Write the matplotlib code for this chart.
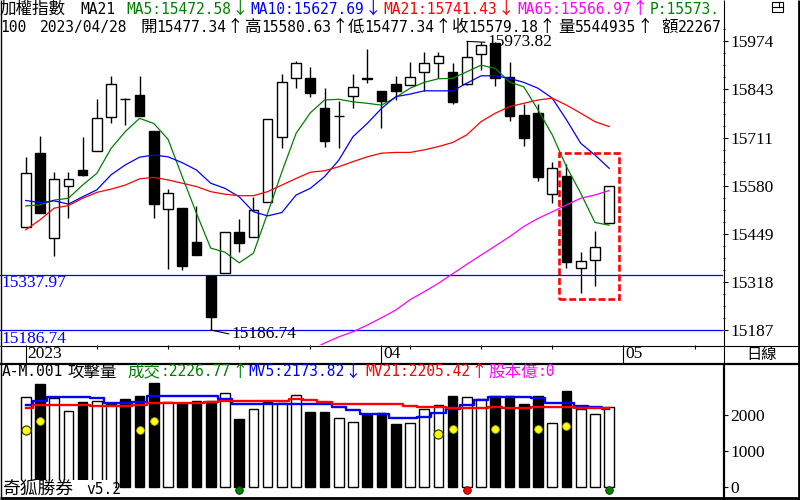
import matplotlib
matplotlib.use("Agg")
import matplotlib.pyplot as plt
from matplotlib.patches import Rectangle
import numpy as np

# ---------------- data ----------------
opens = [15467, 15669, 15437, 15580, 15623, 15676, 15767, 15818, 15828, 15730,
         15516, 15519, 15427, 15334, 15341, 15453, 15439, 15537, 15714, 15873,
         15873, 15791, 15770, 15826, 15874, 15839, 15858, 15855, 15890, 15915,
         15890, 15858, 15940, 15969, 15876, 15773, 15778, 15557, 15607, 15355,
         15378, 15477.34]
highs = [15659, 15717, 15617, 15617, 15714, 15818, 15880, 15820, 15880, 15730,
         15571, 15519, 15526, 15334, 15453, 15489, 15550, 15761, 15885, 15921,
         15903, 15846, 15811, 15885, 15953, 15839, 15880, 15918, 15946, 15944,
         15916, 15973.82, 15972, 15972, 15917, 15803, 15803, 15644, 15640, 15400,
         15457, 15580.63]
lows = [15467, 15505, 15389, 15493, 15607, 15676, 15750, 15746, 15770, 15491,
        15352, 15349, 15390, 15186.74, 15341, 15400, 15439, 15537, 15682, 15848,
        15823, 15687, 15684, 15793, 15860, 15737, 15814, 15855, 15839, 15873,
        15803, 15855, 15896, 15853, 15758, 15689, 15594, 15532, 15355, 15287,
        15308, 15477.34]
closes = [15614, 15505, 15598, 15598, 15610, 15764, 15857, 15817, 15770, 15530,
          15560, 15362, 15390, 15223, 15453, 15423, 15514, 15761, 15864, 15914,
          15832, 15703, 15771, 15849, 15871, 15812, 15839, 15876, 15914, 15934,
          15808, 15930, 15964, 15873, 15771, 15710, 15605, 15628, 15373, 15375,
          15412, 15579.18]

ma5 = [15525, 15528, 15541, 15546, 15582, 15614, 15682, 15728, 15764, 15750,
       15707, 15605, 15505, 15410, 15399, 15370, 15396, 15505, 15618, 15723,
       15779, 15814, 15816, 15809, 15805, 15800, 15821, 15846, 15862, 15872,
       15873, 15891, 15909, 15900, 15863, 15850, 15787, 15719, 15632, 15560,
       15480, 15472.58]
ma10 = [15540, 15534, 15539, 15530, 15550, 15569, 15610, 15637, 15658, 15664,
        15659, 15643, 15623, 15587, 15573, 15550, 15509, 15498, 15507, 15555,
        15573, 15605, 15650, 15714, 15750, 15791, 15823, 15830, 15839, 15839,
        15839, 15860, 15880, 15880, 15873, 15862, 15846, 15819, 15760, 15696,
        15664, 15627.69]
ma21 = [15460, 15487, 15519, 15526, 15546, 15562, 15571, 15582, 15599, 15603,
        15596, 15587, 15578, 15564, 15557, 15553, 15553, 15564, 15582, 15600,
        15617, 15621, 15632, 15646, 15659, 15669, 15671, 15671, 15678, 15687,
        15698, 15719, 15755, 15778, 15796, 15805, 15814, 15819, 15800, 15778,
        15755, 15741.43]
ma65 = [np.nan] * 20 + [15132, 15151, 15168, 15182, 15200, 15220, 15241, 15269,
                        15291, 15314, 15340, 15366, 15391, 15416, 15441, 15469,
                        15491, 15509, 15528, 15546, 15555, 15566.97]

volume = [2504, 2877, 2476, 2129, 2364, 2409, 2308, 2448, 2541, 2896,
          2381, 2336, 2409, 2409, 2633, 1888, 2185, 2381, 2353, 2577,
          2101, 2101, 1933, 1821, 2008, 2056, 1748, 1776, 2168, 2289,
          2541, 2504, 2448, 2541, 2541, 2317, 2541, 1776, 2681, 2168,
          2036, 2226.77]
mv5 = [2289, 2409, 2504, 2504, 2504, 2485, 2353, 2336, 2381, 2541,
       2541, 2541, 2541, 2541, 2448, 2317, 2317, 2317, 2317, 2317,
       2317, 2317, 2241, 2148, 2028, 2028, 1916, 1916, 1961, 2056,
       2168, 2289, 2429, 2504, 2504, 2504, 2476, 2353, 2353, 2269,
       2241, 2173.82]
mv21 = [2213, 2289, 2289, 2289, 2275, 2261, 2261, 2261, 2289, 2336,
        2353, 2353, 2353, 2381, 2409, 2409, 2409, 2409, 2409, 2448,
        2429, 2381, 2317, 2317, 2317, 2317, 2317, 2269, 2241, 2241,
        2213, 2213, 2213, 2241, 2213, 2213, 2232, 2232, 2232, 2213,
        2213, 2205.42]

signal_idx = [1, 8, 9, 30, 33, 36, 38]
signal_val = [1849, 1588, 1849, 1616, 1616, 1616, 1709]
strong_idx = [0, 29]
strong_val = [1588, 1468]
buy_idx = [15, 41]
sell_idx = [31]
marker_level = -92

support_levels = [15337.97, 15186.74]
price_ticks = [15187, 15318, 15449, 15580, 15711, 15843, 15974]
vol_ticks = [0, 1000, 2000]
date_major = [0, 25, 42]
date_major_labels = ["2023", "04", "05"]
date_minor = [5, 10, 15, 20, 27, 32, 37, 47]

# ---------------- style helpers ----------------
PX = 0.72  # points per pixel at dpi 100
MONO = "DejaVu Sans Mono"
CJK = ["Noto Sans CJK TC", "DejaVu Sans"]
SERIF = "Liberation Serif"
GREEN, BLUE, RED, MAG = "#008000", "#0000ff", "#ff0000", "#ff00ff"

W, H = 800, 500
fig = plt.figure(figsize=(8, 5), dpi=100)


def box(x0, y0, x1, y1):
    return [x0 / W, 1 - y1 / H, (x1 - x0) / W, (y1 - y0) / H]


n = len(closes)
idx = np.arange(n)
XL = (-1.806, 49.02)

# ---------------- main price panel ----------------
ax = fig.add_axes(box(0, 0, 723.3, 345))
ax.set_xlim(*XL)
ax.set_ylim(15145.8, 16086.7)
for s in ax.spines.values():
    s.set_visible(False)
ax.set_xticks([])

for lv in support_levels:
    ax.axhline(lv, color=BLUE, lw=0.9, zorder=1)

bw = 0.68
for i in range(n):
    o, h, l, c = opens[i], highs[i], lows[i], closes[i]
    ax.vlines(i, l, h, color="black", lw=1.0, zorder=2)
    up = c >= o
    lo_b = min(o, c)
    hgt = max(abs(c - o), 0.8)
    ax.add_patch(Rectangle((i - bw / 2, lo_b), bw, hgt,
                           facecolor="white" if up else "black",
                           edgecolor="black", lw=1.0, zorder=2.5))

ax.plot(idx, ma5, color=GREEN, lw=0.9, zorder=3)
ax.plot(idx, ma10, color=BLUE, lw=0.9, zorder=3)
ax.plot(idx, ma21, color=RED, lw=0.9, zorder=3)
ax.plot(idx, ma65, color=MAG, lw=0.9, zorder=3)

# highest / lowest annotations
imax = int(np.argmax(highs))
ax.annotate(f"{highs[imax]:.2f}", xy=(imax, highs[imax]),
            xytext=(21 * PX, -1.0 * PX), textcoords="offset points",
            ha="left", va="center", fontsize=12.5, family=SERIF,
            arrowprops=dict(arrowstyle="-", lw=0.8, color="black",
                            shrinkA=0, shrinkB=0, relpos=(0, 0.5)), zorder=4)
imin = int(np.argmin(lows))
ax.annotate(f"{lows[imin]:.2f}", xy=(imin, lows[imin]),
            xytext=(21 * PX, -4.5 * PX), textcoords="offset points",
            ha="left", va="center", fontsize=12.5, family=SERIF,
            arrowprops=dict(arrowstyle="-", lw=0.8, color="black",
                            shrinkA=0, shrinkB=0, relpos=(0, 0.5)), zorder=4)

for lv, dy in zip(support_levels, [-8.5, -9.5]):
    ax.annotate(f"{lv:.2f}", xy=(0, lv), xycoords=("axes fraction", "data"),
                xytext=(1.5 * PX, dy * PX), textcoords="offset points",
                ha="left", va="center", fontsize=12.5, family=SERIF,
                color=BLUE, annotation_clip=False, clip_on=True, zorder=4)

# highlight box
ax.add_patch(Rectangle((37.5, 15270.5), 4.19, 399.8, fill=False,
                       edgecolor=RED, lw=1.9, linestyle=(0, (2.6, 1.1)),
                       zorder=5))

ax.yaxis.tick_right()
ax.set_yticks(price_ticks)
ax.set_yticklabels([str(t) for t in price_ticks])
step = (price_ticks[1] - price_ticks[0]) / 4
minor = [t + k * step for t in price_ticks[:-1] for k in (1, 2, 3)]
minor += [price_ticks[-1] + step]
ax.set_yticks(minor, minor=True)
ax.tick_params(axis="y", which="major", direction="out", length=3.5,
               width=0.8, pad=1.8, labelsize=12.5)
ax.tick_params(axis="y", which="minor", direction="out", length=1.5, width=0.8)
for lab in ax.get_yticklabels():
    lab.set_fontfamily(SERIF)

# ---------------- date axis ----------------
axd = fig.add_axes(box(0, 345, 723.3, 363.3))
axd.set_xlim(*XL)
axd.set_ylim(0, 1)
axd.axis("off")
axd.vlines(date_major, 0, 1, color="black", lw=0.8)
axd.vlines(date_minor, 0.76, 1, color="black", lw=0.8)
for x, lab in zip(date_major, date_major_labels):
    axd.annotate(lab, xy=(x, 0.5), xytext=(1.5 * PX, 0),
                 textcoords="offset points", ha="left", va="center",
                 fontsize=12.5, family=SERIF)

# ---------------- volume panel ----------------
axv = fig.add_axes(box(0, 363.3, 723.3, 496.7))
axv.set_xlim(*XL)
axv.set_ylim(-280, 3457)
for s in axv.spines.values():
    s.set_visible(False)
axv.set_xticks([])
vcol = ["white" if closes[i] >= opens[i] else "black" for i in range(n)]
axv.bar(idx, volume, width=bw, color=vcol, edgecolor="black", lw=1.0, zorder=2)
axv.plot(idx, mv5, color=BLUE, lw=1.7, drawstyle="steps-mid", zorder=3)
axv.plot(idx, mv21, color=RED, lw=1.7, drawstyle="steps-mid", zorder=3)
axv.plot(signal_idx, signal_val, "o", ms=5.5, mfc="#ffff00", mec="#b0b000",
         mew=0.6, zorder=4)
axv.plot(strong_idx, strong_val, "o", ms=6.5, mfc="#ffff00", mec="#404000",
         mew=0.9, zorder=4)
axv.plot(buy_idx, [marker_level] * len(buy_idx), "o", ms=5.5, mfc=GREEN,
         mec="#003000", mew=0.6, zorder=4, clip_on=False)
axv.plot(sell_idx, [marker_level] * len(sell_idx), "o", ms=5.5, mfc=RED,
         mec="#600000", mew=0.6, zorder=4, clip_on=False)
axv.yaxis.tick_right()
axv.set_yticks(vol_ticks)
axv.set_yticklabels([str(t) for t in vol_ticks])
axv.tick_params(axis="y", direction="out", length=3.5, width=0.8, pad=1.8,
                labelsize=12.5)
for lab in axv.get_yticklabels():
    lab.set_fontfamily(SERIF)

# ---------------- overlay: frame and header texts ----------------
ov = fig.add_axes([0, 0, 1, 1])
ov.set_xlim(0, W)
ov.set_ylim(H, 0)
ov.axis("off")
ov.patch.set_visible(False)


def hl(y, x0, x1, lw):
    ov.plot([x0, x1], [y, y], color="black", lw=lw, solid_capstyle="butt")


def vl(x, y0, y1, lw):
    ov.plot([x, x], [y0, y1], color="black", lw=lw, solid_capstyle="butt")


# white background behind the credit text (covers the bars like the reference)
ov.add_patch(Rectangle((1.5, 480), 113, 16.5, facecolor="white",
                       edgecolor="none", zorder=0.5))

vl(0.5, 0, 497, 1.0)
hl(345.5, 0, 800, 0.8)
hl(363.5, 0, 800, 1.6)
vl(723.5, 0, 363.5, 0.8)
vl(723.5, 363.5, 500, 1.6)
vl(798.5, 0, 500, 2.0)
hl(497.5, 0, 800, 2.0)
# small window icon
ov.add_patch(Rectangle((772, 2), 11, 9.5, fill=False, edgecolor="black", lw=0.8))
hl(7, 772, 783, 0.8)
vl(778.5, 2, 7, 0.8)


def runs(x, y, s, color="black", asc_w=8.8, wide_w=16.5,
         asc_size=10.5, wide_size=11.9):
    chunks = []
    for ch in s:
        wide = ord(ch) > 127
        if chunks and chunks[-1][1] == wide:
            chunks[-1][0] += ch
        else:
            chunks.append([ch, wide])
    for txt, wide in chunks:
        if wide:
            ov.text(x, y, txt, color=color, fontsize=wide_size, family=CJK,
                    ha="left", va="center")
            x += len(txt) * wide_w
        else:
            ov.text(x, y, txt, color=color, fontsize=asc_size, family=MONO,
                    ha="left", va="center")
            x += len(txt) * asc_w


r1 = 9.5
runs(0, r1, "加權指數")
runs(80, r1, "MA21")
runs(126, r1, "MA5:15472.58↓", GREEN)
runs(250, r1, "MA10:15627.69↓", BLUE)
runs(383, r1, "MA21:15741.43↓", RED)
runs(517, r1, "MA65:15566.97↑", MAG)
runs(650, r1, "P:15573.", GREEN)

r2 = 27.5
runs(0, r2, "100")
runs(40, r2, "2023/04/28")
runs(140, r2, "開15477.34↑")
runs(245, r2, "高15580.63↑")
runs(348, r2, "低15477.34↑")
runs(452, r2, "收15579.18↑")
runs(558, r2, "量5544935↑")
runs(661, r2, "額22267")

r3 = 372
runs(2, r3, "A-M.001")
runs(67, r3, "攻擊量")
runs(127.7, r3, "成交:2226.77↑", GREEN)
runs(248, r3, "MV5:2173.82↓", BLUE)
runs(365, r3, "MV21:2205.42↑", RED)
runs(488, r3, "股本億:0", MAG)

runs(2, 489, "奇狐勝券", wide_w=18.3, wide_size=12.8)
runs(86, 489, "v5.2")

ov.text(761.5, 355, "日線", fontsize=11, family=CJK, ha="center", va="center")

fig.savefig("out.png", dpi=100)
